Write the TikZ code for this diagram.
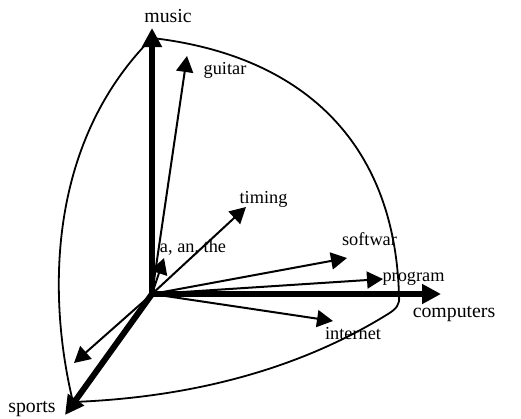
\documentclass[tikz,border=0pt]{standalone}
\usepackage{fontspec}
\setmainfont{Liberation Serif}
\usetikzlibrary{arrows.meta}
\begin{document}
\begin{tikzpicture}[x=1pt,y=-1pt,
  axis/.style={line width=6pt,line cap=round,-{Triangle[length=19pt,width=19pt]}},
  vec/.style={line width=2pt,-{Triangle[length=16pt,width=17pt]}},
  big/.style={font=\fontsize{19.8}{22}\selectfont,inner sep=0pt,anchor=base},
  small/.style={font=\fontsize{18.3}{20}\selectfont,inner sep=0pt,anchor=base},
  hull/.style={line width=1.8pt,line join=round}]
\useasboundingbox (0,0) rectangle (521,418);
% boundary curve
\draw[hull] (152,38) .. controls (300,55) and (395,140) .. (399,296)
  .. controls (400,305) and (396,309) .. (388,314)
  .. controls (330,350) and (230,396) .. (73,402)
  .. controls (46,290) and (50,140) .. (152,38);
% coordinates
\coordinate (O) at (152,294);
\coordinate (musictip) at (152,28);
\coordinate (comptip) at (441,294);
\coordinate (sportstip) at (65,415);
\coordinate (guitartip) at (187,56);
\coordinate (timingtip) at (246,207);
\coordinate (articletip) at (164,258);
\coordinate (softtip) at (347,258);
\coordinate (progtip) at (383,279);
\coordinate (nettip) at (333,321);
\coordinate (sporttip2) at (74,363);
% thin vectors
\draw[vec] (O) -- (guitartip);
\draw[vec] (O) -- (timingtip);
\draw[vec] (O) -- (articletip);
\draw[vec] (O) -- (softtip);
\draw[vec] (O) -- (progtip);
\draw[vec] (O) -- (nettip);
\draw[vec] (O) -- (sporttip2);
% axes
\draw[axis] (O) -- (musictip);
\draw[axis] (O) -- (comptip);
\draw[axis] (O) -- (sportstip);
% labels
\node[big] (music) at (168,22.5) {music};
\node[big] (computers) at (454,317) {computers};
\node[big] (sports) at (32,412) {sports};
\node[small] (guitar) at (225,74) {guitar};
\node[small] (timing) at (263.5,203) {timing};
\node[small] (article) at (193,252.5) {a, an, the};
\node[small] (softwar) at (369.5,245) {softwar};
\node[small] (program) at (413.5,281.5) {program};
\node[small] (internet) at (353,339) {internet};
\end{tikzpicture}
\end{document}
